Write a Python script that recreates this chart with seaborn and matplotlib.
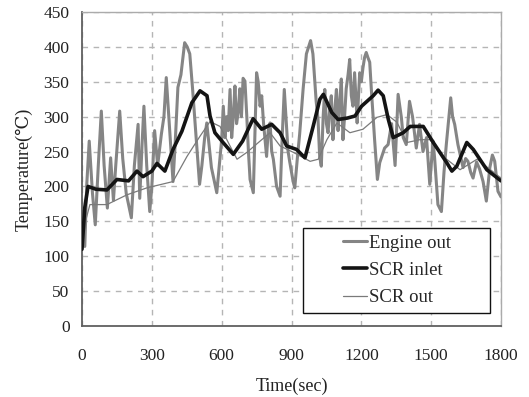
import matplotlib
matplotlib.use("Agg")
import matplotlib.pyplot as plt
from matplotlib.patches import Rectangle
import seaborn as sns
import pandas as pd

# ---- data ----
engine_t = [0, 12, 20, 31, 45, 57, 70, 83, 95, 109, 123, 135, 145, 162, 175, 190, 212, 225, 241, 248,
            258, 266, 278, 291, 300, 312, 325, 341, 352, 362, 375, 391, 400, 412, 425, 441, 452, 463,
            475, 484, 505, 515, 527, 536, 556, 579, 590, 600, 607, 614, 621, 628, 636, 643, 650, 657,
            664, 671, 678, 685, 692, 700, 708, 715, 722, 736, 743, 750, 757, 765, 772, 780, 793, 800,
            808, 815, 822, 836, 851, 860, 869, 885, 892, 907,
            914, 925, 935, 950, 964, 982, 992, 1006, 1014, 1021, 1028, 1036, 1043, 1050, 1057, 1064,
            1071, 1078, 1086, 1093, 1100, 1107, 1114, 1121, 1128, 1135, 1143, 1150, 1157, 1164, 1171,
            1178, 1182, 1193, 1200, 1207, 1214, 1221, 1228, 1236, 1243, 1257, 1269, 1279, 1290,
            1300, 1315, 1330, 1345, 1358, 1372, 1380, 1393, 1407, 1420, 1436, 1450, 1465,
            1480, 1494, 1508, 1515, 1529, 1544, 1555, 1565, 1584, 1592, 1601, 1615, 1637, 1648, 1658,
            1670, 1680, 1695, 1708, 1723, 1737, 1752, 1763, 1773, 1787, 1800]
engine_v = [150, 114, 200, 265, 190, 145, 230, 308, 230, 169, 241, 180, 230, 308, 240, 190, 155, 230, 289, 183,
            260, 315, 230, 164, 200, 280, 230, 275, 300, 356, 290, 207, 260, 342, 360, 406, 400, 390,
            340, 299, 203, 230, 270, 291, 227, 191, 230, 267, 315, 270, 300, 280, 339, 270, 300, 344,
            290, 306, 340, 300, 355, 351, 300, 250, 210, 191, 280, 363, 350, 315, 330, 290, 243, 280,
            291, 250, 239, 200, 186, 270, 339, 251, 236, 207,
            198, 240, 275, 340, 390, 409, 390, 322, 296, 243, 229, 300, 339, 290, 277, 310,
            330, 267, 310, 339, 280, 320, 354, 267, 300, 340, 360, 382, 330, 315, 363,
            320, 291, 363, 350, 370, 385, 392, 385, 378, 339, 267, 210, 234, 245,
            255, 260, 290, 230, 332, 299, 270, 260, 322, 300, 255, 289, 250,
            270, 203, 265, 240, 174, 164, 220, 260, 327, 300, 289, 260, 227, 240, 236,
            220, 212, 235, 225, 207, 179, 227, 245, 236, 193, 185]

inlet_t = [0, 12, 26, 60, 107, 150, 200, 236, 262, 300, 322, 356, 391, 429, 472, 507, 537, 550, 571,
           606, 650, 690, 735, 772, 815, 851, 879, 922, 958, 993, 1022, 1037, 1073, 1100, 1140, 1173,
           1201, 1251, 1272, 1294, 1316, 1337, 1380, 1410, 1466, 1509, 1567, 1589, 1610, 1653, 1681,
           1739, 1800]
inlet_v = [110, 170, 200, 196, 195, 210, 208, 222, 214, 222, 233, 222, 253, 279, 320, 337, 330, 301, 277,
           263, 246, 265, 297, 282, 289, 277, 258, 253, 241, 286, 325, 332, 306, 296, 298, 301,
           315, 330, 338, 330, 296, 270, 277, 286, 286, 263, 234, 222, 229, 263, 253,
           224, 208]

out_t = [0, 15, 34, 107, 193, 279, 391, 451, 507, 550, 593, 636, 666, 709, 765, 808, 851, 907, 980,
         1015, 1052, 1095, 1151, 1207, 1267, 1310, 1353, 1396, 1452, 1495, 1551, 1624, 1697, 1800]
out_v = [110, 150, 174, 174, 188, 198, 207, 243, 272, 293, 286, 258, 239, 249, 265, 277, 258, 249, 236,
         239, 267, 291, 277, 282, 299, 303, 292, 263, 267, 267, 243, 224, 239, 212]

labels = ["Engine out", "SCR inlet", "SCR out"]
x_ticks = [0, 300, 600, 900, 1200, 1500, 1800]
y_ticks = list(range(0, 451, 50))

# ---- style ----
sns.set_style("white")
plt.rcParams["font.family"] = ["Liberation Serif", "DejaVu Serif"]

fig = plt.figure(figsize=(5.29, 3.97), dpi=100)
ax = fig.add_axes([82 / 529, 1 - 326 / 397, 419 / 529, 314 / 397])

df_e = pd.DataFrame({"t": engine_t, "v": engine_v})
df_i = pd.DataFrame({"t": inlet_t, "v": inlet_v})
df_o = pd.DataFrame({"t": out_t, "v": out_v})

sns.lineplot(data=df_e, x="t", y="v", ax=ax, color="#858585", lw=2.2, sort=False,
             estimator=None, label=labels[0], zorder=3)
sns.lineplot(data=df_i, x="t", y="v", ax=ax, color="#141414", lw=2.6, sort=False,
             estimator=None, label=labels[1], zorder=5)
sns.lineplot(data=df_o, x="t", y="v", ax=ax, color="#7a7a7a", lw=0.9, sort=False,
             estimator=None, label=labels[2], zorder=4)

ax.set_xlim(0, 1800)
ax.set_ylim(0, 450)
ax.set_xticks(x_ticks)
ax.set_yticks(y_ticks)
ax.tick_params(axis="both", length=0, labelsize=12.5, colors="#222222")
ax.tick_params(axis="x", pad=16)
ax.tick_params(axis="y", pad=9)
ax.grid(True, color="#b5b5b5", lw=1.0, ls=(0, (4, 4)))
ax.set_axisbelow(True)

for s in ["left", "bottom"]:
    ax.spines[s].set_color("#606060")
    ax.spines[s].set_linewidth(1.3)
for s in ["top", "right"]:
    ax.spines[s].set_color("#ababab")
    ax.spines[s].set_linewidth(1.0)

ax.set_xlabel("Time(sec)", fontsize=13, labelpad=10, color="#222222")
ax.set_ylabel("Temperature(℃)", fontsize=13, labelpad=8, color="#222222")

# legend box
rect = Rectangle((0.527, 0.041), 0.446, 0.271, transform=ax.transAxes,
                 facecolor="white", edgecolor="#111111", lw=1.0, zorder=8)
ax.add_patch(rect)
leg = ax.legend(loc="center", bbox_to_anchor=(0.751, 0.177), frameon=False,
                fontsize=13.5, handlelength=1.3, handletextpad=0.1, labelspacing=0.55)
leg.set_zorder(9)

fig.savefig("out.png", dpi=100)
